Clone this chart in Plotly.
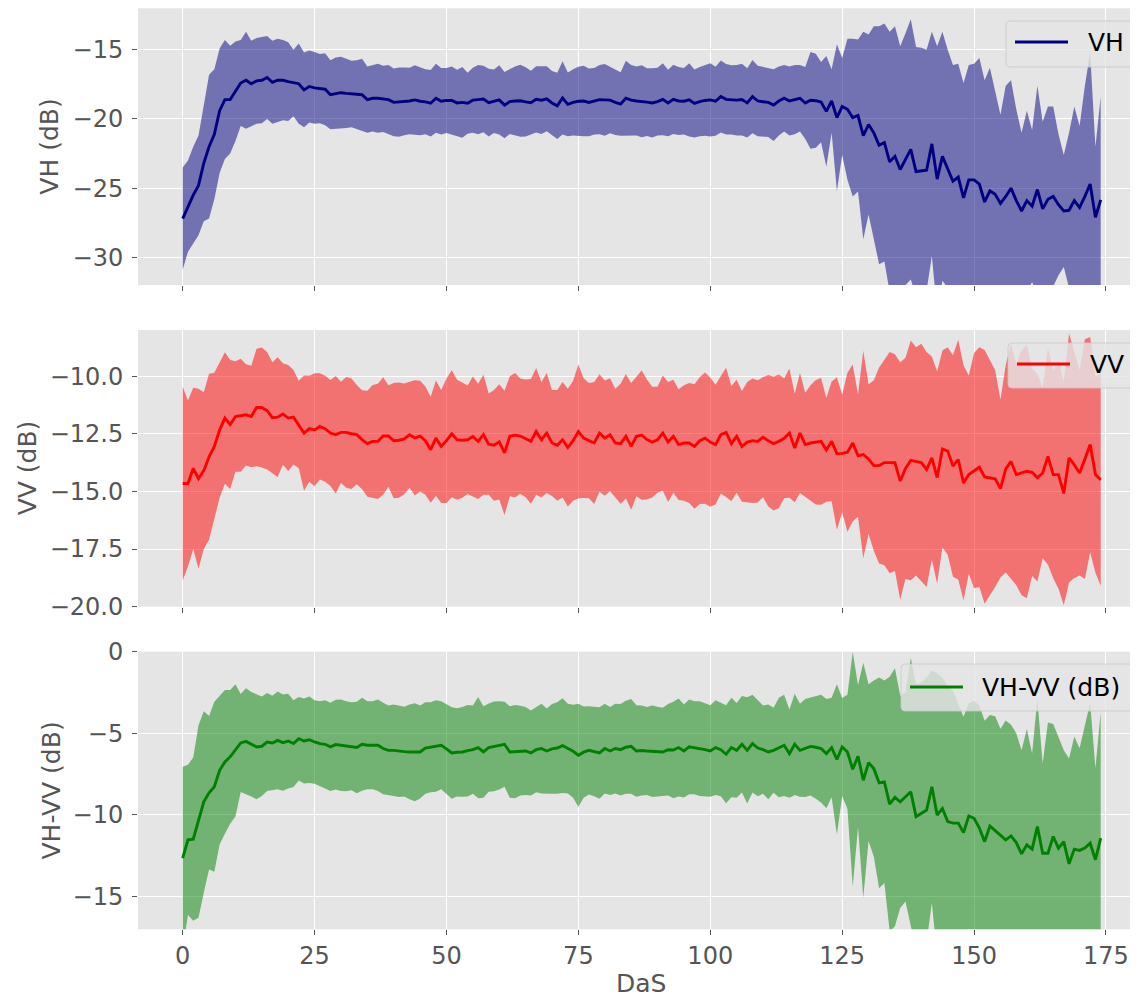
import numpy as np
import plotly.graph_objects as go
from plotly.subplots import make_subplots

# Days after sowing
das = list(range(0, 175))

vh_mean = [
    -27.2, -26.3, -25.5, -24.8, -23.2, -22.0, -21.1, -19.4, -18.6, -18.6,
    -18.0, -17.4, -17.2, -17.45, -17.25, -17.2, -17.0, -17.35, -17.2, -17.2,
    -17.3, -17.4, -17.45, -17.9, -17.65, -17.75, -17.8, -17.85, -18.25, -18.15,
    -18.1, -18.15, -18.2, -18.25, -18.25, -18.6, -18.5, -18.5, -18.55, -18.6,
    -18.8, -18.78, -18.72, -18.7, -18.62, -18.72, -18.76, -18.86, -18.5, -18.72,
    -18.66, -18.66, -18.84, -18.8, -18.86, -18.64, -18.6, -18.56, -18.82, -18.72,
    -18.62, -19.0, -18.74, -18.7, -18.68, -18.76, -18.82, -18.58, -18.64, -18.54,
    -18.84, -19.05, -18.48, -18.94, -18.8, -18.72, -18.7, -18.8, -18.72, -18.6,
    -18.62, -18.64, -18.8, -18.92, -18.5, -18.64, -18.7, -18.72, -18.78, -18.84,
    -18.74, -18.58, -18.84, -18.58, -18.7, -18.72, -18.62, -18.88, -18.74, -18.66,
    -18.62, -18.72, -18.38, -18.58, -18.62, -18.64, -18.6, -18.84, -18.38, -18.7,
    -18.75, -18.8, -19.0, -18.7, -18.5, -18.7, -18.6, -18.5, -18.85, -18.65,
    -18.68, -18.78, -19.45, -18.7, -19.9, -19.1, -19.3, -19.9, -19.75, -21.2,
    -20.4, -21.0, -21.9, -21.7, -23.1, -22.7, -23.65, -22.9, -22.2, -23.8,
    -23.75, -23.7, -21.8, -24.35, -22.7, -23.6, -24.5, -24.2, -25.7, -24.4,
    -24.4, -24.7, -26.0, -25.2, -25.45, -26.1, -25.6, -25.0, -25.9, -26.65,
    -25.9, -26.3, -25.1, -26.5, -25.8, -25.6, -26.2, -26.65, -26.6, -25.9,
    -26.4, -25.6, -24.7, -27.1, -25.85,
]
vh_std = [
    3.7, 3.3, 3.5, 3.6, 4.2, 5.2, 4.7, 4.5, 4.3, 3.9,
    3.6, 3.1, 3.5, 3.1, 3.1, 3.1, 3.0, 3.0, 3.0, 2.9,
    2.85, 2.4, 2.9, 2.7, 2.6, 2.6, 2.5, 2.6, 2.5, 2.6,
    2.6, 2.5, 2.4, 2.5, 2.6, 2.4, 2.4, 2.5, 2.4, 2.5,
    2.45, 2.5, 2.45, 2.4, 2.5, 2.45, 2.35, 2.4, 2.5, 2.4,
    2.35, 2.45, 2.4, 2.55, 2.2, 2.35, 2.5, 2.4, 2.45, 2.3,
    2.5, 2.4, 2.35, 2.5, 2.6, 2.5, 2.3, 2.4, 2.45, 2.35,
    2.3, 2.4, 2.65, 2.3, 2.4, 2.5, 2.55, 2.45, 2.4, 2.5,
    2.6, 2.4, 2.35, 2.3, 2.7, 2.55, 2.5, 2.6, 2.45, 2.5,
    2.45, 2.6, 2.4, 2.5, 2.45, 2.4, 2.65, 2.45, 2.5, 2.55,
    2.65, 2.5, 2.6, 2.55, 2.5, 2.55, 2.6, 2.5, 2.65, 2.55,
    2.5, 2.5, 2.6, 2.5, 2.4, 2.5, 2.5, 2.4, 2.6, 3.5,
    3.4, 2.9, 4.0, 2.3, 5.3, 3.5, 5.1, 5.7, 5.5, 7.5,
    6.5, 7.7, 8.6, 8.6, 9.4, 9.4, 8.9, 9.1, 9.4, 9.0,
    8.9, 8.7, 8.1, 9.6, 9.0, 8.6, 8.4, 8.2, 8.3, 8.3,
    8.4, 9.1, 8.8, 8.9, 7.5, 6.4, 8.0, 7.8, 6.6, 5.65,
    6.5, 5.5, 7.5, 6.3, 6.7, 6.5, 5.1, 4.05, 5.6, 6.8,
    5.9, 8.0, 9.5, 5.1, 7.45,
]

vv_mean = [
    -14.66, -14.66, -14.0, -14.45, -14.1, -13.5, -13.05, -12.33, -11.82, -12.1,
    -11.75, -11.7, -11.68, -11.75, -11.36, -11.36, -11.5, -11.8, -11.78, -11.64,
    -11.82, -11.78, -12.1, -12.47, -12.28, -12.33, -12.18, -12.28, -12.47, -12.54,
    -12.44, -12.44, -12.5, -12.54, -12.76, -12.93, -12.83, -12.83, -12.6, -12.6,
    -12.8, -12.78, -12.72, -12.54, -12.68, -12.6, -12.8, -13.19, -12.69, -13.05,
    -12.8, -12.5, -12.76, -12.78, -12.76, -12.62, -12.83, -12.54, -12.95, -13.0,
    -12.85, -13.33, -12.61, -12.56, -12.6, -12.7, -12.83, -12.4, -12.76, -12.47,
    -12.9, -13.0, -12.76, -13.1, -12.8, -12.4, -12.69, -12.8, -12.9, -12.47,
    -12.69, -12.54, -12.9, -12.93, -12.61, -13.05, -12.61, -12.56, -12.75, -12.86,
    -12.76, -12.47, -12.86, -12.61, -12.97, -12.9, -12.9, -13.05, -12.8, -12.69,
    -12.86, -12.97, -12.54, -12.44, -12.93, -12.61, -13.05, -12.86, -12.8, -12.83,
    -12.65, -12.8, -12.93, -12.83, -12.7, -12.47, -13.12, -12.47, -12.97, -12.9,
    -12.87, -12.83, -13.2, -12.83, -13.36, -13.35, -13.3, -12.9, -13.45, -13.4,
    -13.6, -13.88, -13.88, -13.75, -13.75, -13.75, -14.55, -14.0, -13.65, -13.7,
    -13.75, -14.05, -13.55, -14.4, -13.16, -13.25, -13.9, -13.62, -14.63, -14.27,
    -14.1, -13.95, -14.37, -14.4, -14.45, -14.88, -14.02, -13.7, -14.27, -14.2,
    -14.13, -14.17, -14.41, -14.2, -13.48, -14.27, -14.27, -15.09, -13.55, -13.85,
    -14.2, -13.6, -12.97, -14.27, -14.5,
]
vv_std = [
    4.2, 3.6, 3.5, 3.9, 3.4, 3.6, 3.2, 2.95, 2.85, 2.8,
    2.4, 2.45, 2.2, 2.2, 2.55, 2.6, 2.55, 2.4, 2.6, 2.2,
    2.3, 2.05, 1.9, 2.5, 2.3, 2.45, 2.3, 2.3, 2.3, 2.55,
    2.2, 2.4, 2.4, 2.15, 2.15, 2.3, 2.45, 2.5, 2.55, 2.2,
    2.5, 2.5, 2.4, 2.3, 2.5, 2.4, 2.35, 2.3, 2.5, 2.45,
    2.7, 2.75, 2.6, 2.5, 2.35, 2.6, 2.5, 2.6, 2.2, 2.4,
    2.5, 2.7, 2.6, 2.7, 2.5, 2.55, 2.7, 2.75, 2.5, 2.6,
    2.3, 2.4, 2.5, 2.55, 2.6, 2.9, 2.6, 2.5, 2.65, 2.55,
    2.5, 2.45, 2.35, 2.6, 2.7, 2.75, 2.6, 2.8, 2.6, 2.4,
    2.3, 2.5, 2.6, 2.45, 2.4, 2.5, 2.6, 2.7, 2.75, 2.85,
    2.8, 2.6, 2.55, 2.8, 2.5, 2.45, 2.4, 2.6, 2.7, 2.65,
    2.6, 2.85, 2.9, 2.9, 2.6, 2.8, 2.35, 2.6, 2.25, 2.5,
    2.7, 2.75, 2.25, 2.6, 3.3, 2.55, 3.45, 3.4, 2.65, 4.5,
    3.25, 3.7, 4.25, 4.45, 4.8, 4.7, 5.15, 4.8, 5.2, 4.95,
    5.15, 5.1, 4.4, 4.6, 4.27, 4.5, 4.8, 5.2, 5.1, 4.3,
    5.1, 5.2, 5.5, 5.1, 4.7, 3.85, 4.5, 5.1, 4.8, 5.3,
    5.5, 4.5, 4.5, 3.7, 4.7, 4.5, 4.95, 4.85, 5.4, 4.9,
    4.45, 5.2, 4.67, 4.25, 4.6,
]

vhvv_mean = [
    -12.64, -11.52, -11.48, -10.4, -9.19, -8.64, -8.27, -7.26, -6.75, -6.44,
    -6.04, -5.59, -5.49, -5.67, -5.83, -5.79, -5.53, -5.59, -5.43, -5.57,
    -5.47, -5.63, -5.33, -5.47, -5.39, -5.53, -5.63, -5.67, -5.83, -5.69,
    -5.73, -5.79, -5.79, -5.87, -5.67, -5.73, -5.73, -5.73, -5.93, -6.04,
    -6.04, -6.1, -6.12, -6.14, -6.16, -6.14, -5.9, -5.85, -5.78, -5.73,
    -5.95, -6.2, -6.16, -6.14, -6.06, -6.0, -5.87, -6.14, -5.87, -5.8,
    -5.74, -5.67, -6.14, -6.12, -6.06, -6.08, -6.2, -6.0, -5.93, -6.08,
    -5.95, -5.9, -5.75, -5.93, -6.1, -6.34, -6.15, -6.04, -6.1, -6.2,
    -5.93, -6.08, -5.93, -6.0, -5.85, -5.8, -6.08, -6.05, -6.08, -6.1,
    -6.12, -6.14, -6.0, -6.02, -5.87, -6.08, -5.83, -5.88, -5.93, -6.0,
    -6.08, -5.87, -6.0, -6.28, -5.87, -6.04, -5.67, -6.04, -5.63, -5.9,
    -6.0, -6.14, -6.04, -5.87, -5.73, -6.24, -5.67, -6.04, -5.9, -5.8,
    -5.85, -5.93, -6.24, -5.87, -6.6, -5.83, -6.14, -7.2, -6.4, -7.87,
    -6.8, -7.16, -8.03, -7.97, -9.33, -8.92, -9.19, -8.9, -8.58, -10.1,
    -9.9, -9.7, -8.27, -10.0, -9.6, -10.4, -10.5, -10.5, -11.08, -10.06,
    -10.2, -10.8, -11.63, -10.67, -10.96, -11.22, -11.52, -11.28, -11.69, -12.38,
    -11.83, -12.09, -10.71, -12.34, -12.34, -11.32, -12.03, -11.63, -12.99, -12.09,
    -12.17, -12.03, -11.73, -12.74, -11.42,
]
vhvv_std = [
    5.6, 4.6, 5.0, 5.9, 5.55, 4.7, 5.2, 4.55, 4.4, 4.1,
    4.05, 3.0, 3.25, 3.2, 3.2, 3.05, 3.0, 2.9, 3.0, 2.95,
    2.9, 2.65, 2.55, 2.6, 2.65, 2.55, 2.6, 2.7, 2.7, 2.75,
    2.8, 2.75, 2.7, 2.8, 2.85, 2.7, 2.7, 2.8, 2.8, 2.75,
    2.8, 2.8, 2.75, 2.9, 3.0, 2.85, 2.8, 2.75, 2.8, 2.7,
    2.75, 2.8, 2.7, 2.75, 2.8, 2.7, 3.1, 2.8, 2.7, 2.75,
    2.7, 2.6, 2.8, 2.85, 2.75, 2.7, 2.6, 2.6, 2.75, 2.6,
    2.75, 2.8, 2.9, 2.75, 2.85, 3.15, 2.8, 2.7, 2.75, 2.8,
    2.75, 2.7, 2.75, 2.8, 2.85, 2.9, 2.8, 2.75, 2.7, 2.8,
    2.75, 2.7, 2.8, 2.95, 3.0, 2.85, 2.9, 2.85, 2.9, 2.85,
    2.8, 2.9, 2.85, 3.0, 3.05, 2.9, 2.95, 3.25, 3.0, 2.95,
    2.7, 2.9, 2.6, 3.05, 3.1, 2.7, 3.1, 2.85, 3.0, 3.0,
    3.15, 3.3, 3.35, 3.05, 4.6, 3.0, 3.5, 7.2, 4.35, 7.2,
    4.8, 5.4, 6.45, 6.2, 7.8, 7.9, 6.5, 6.4, 8.2, 8.1,
    8.0, 8.1, 7.1, 8.7, 8.0, 8.3, 8.1, 7.3, 7.1, 6.9,
    7.2, 7.5, 7.4, 6.8, 7.0, 6.5, 7.3, 6.8, 6.7, 6.35,
    7.1, 5.85, 7.8, 5.5, 8.0, 6.9, 6.8, 5.6, 6.45, 6.9,
    6.25, 7.5, 8.6, 5.6, 7.7,
]

series_names = ["VH", "VV", "VH-VV (dB)"]
axis_titles = ["VH (dB)", "VV (dB)", "VH-VV (dB)"]
line_colors = ["#000080", "#FF0000", "#008000"]
fill_colors = ["rgba(0,0,128,0.5)", "rgba(255,0,0,0.5)", "rgba(0,128,0,0.5)"]
y_ranges = [[-32, -12], [-20, -8], [-17, 0]]
y_ticks = [[-30, -25, -20, -15], [-20.0, -17.5, -15.0, -12.5, -10.0], [-15, -10, -5, 0]]
x_ticks = [0, 25, 50, 75, 100, 125, 150, 175]

# The page body adds an 8px margin; the figure is sized so it ends at the window edge.
OFF = 8
W, H = 1138 - OFF, 998 - OFF
FONT = "DejaVu Sans"
GREY_TXT = "#555555"


def px(x):
    return (x - OFF) / W


def py(y):
    return 1 - (y - OFF) / H


fig = make_subplots(rows=3, cols=1, shared_xaxes=False)

means = [vh_mean, vv_mean, vhvv_mean]
stds = [vh_std, vv_std, vhvv_std]

for i in range(3):
    m = np.array(means[i])
    s = np.array(stds[i])
    upper = m + s
    lower = m - s
    xs = das + das[::-1]
    ys = list(upper) + list(lower[::-1])
    fig.add_trace(go.Scatter(x=xs, y=ys, fill="toself", fillcolor=fill_colors[i],
                             line=dict(width=0, color=fill_colors[i]), mode="lines",
                             hoverinfo="skip", showlegend=False),
                  row=i + 1, col=1)
    fig.add_trace(go.Scatter(x=das, y=list(m), mode="lines", name=series_names[i],
                             line=dict(color=line_colors[i], width=2.9),
                             showlegend=False),
                  row=i + 1, col=1)

# panel geometry in page pixels (top, bottom)
left_px = 138.0
panels_px = [(8.3, 285.0), (330.0, 606.7), (651.7, 929.3)]
x_domain = [px(left_px), 1.0]
x_range = [-8.47, 181.07]

for i in range(3):
    top, bot = panels_px[i]
    ydom = [py(bot), py(top)]
    xa = dict(domain=x_domain, range=x_range, tickvals=x_ticks,
              showgrid=True, gridcolor="white", gridwidth=1.3, zeroline=False,
              ticks="outside", ticklen=5, tickcolor=GREY_TXT, tickwidth=1,
              showline=False, showticklabels=(i == 2),
              tickfont=dict(family=FONT, size=24, color=GREY_TXT),
              automargin=False)
    if i < 2:
        xa["matches"] = "x3"
    ya = dict(domain=ydom, range=y_ranges[i], tickvals=y_ticks[i],
              showgrid=True, gridcolor="white", gridwidth=1.3, zeroline=False,
              ticks="outside", ticklen=5, tickcolor=GREY_TXT, tickwidth=1,
              showline=False, tickfont=dict(family=FONT, size=24, color=GREY_TXT),
              ticklabelstandoff=4, automargin=False)
    if i == 1:
        ya["tickformat"] = ".1f"
    suffix = "" if i == 0 else str(i + 1)
    fig.update_layout(**{"xaxis" + suffix: xa, "yaxis" + suffix: ya})

# Legend boxes (page pixels): box x0, x1, y0, y1, line x0, x1, y, text x
legend_boxes = [
    (1006, 1133, 21, 67, 1015, 1068, 42, 1086),
    (1008, 1133, 343, 388, 1017, 1070, 364, 1088),
    (901, 1133, 664, 711, 910, 963, 687, 980),
]
shapes = []
annotations = []


def rounded_path(x0, x1, y0, y1, r=4):
    rx = r / W
    ry = r / H
    X0, X1 = px(x0), px(x1)
    Yt, Yb = py(y0), py(y1)
    return (f"M {X0 + rx},{Yt} L {X1 - rx},{Yt} Q {X1},{Yt} {X1},{Yt - ry} "
            f"L {X1},{Yb + ry} Q {X1},{Yb} {X1 - rx},{Yb} L {X0 + rx},{Yb} "
            f"Q {X0},{Yb} {X0},{Yb + ry} L {X0},{Yt - ry} Q {X0},{Yt} {X0 + rx},{Yt} Z")


for i in range(3):
    bx0, bx1, by0, by1, lx0, lx1, ly, tx = legend_boxes[i]
    shapes.append(dict(type="path", path=rounded_path(bx0, bx1, by0, by1), xref="paper", yref="paper",
                       fillcolor="rgba(229,229,229,0.8)", line=dict(color="rgba(200,200,200,0.8)", width=1),
                       layer="above"))
    shapes.append(dict(type="line", x0=px(lx0), x1=px(lx1), y0=py(ly), y1=py(ly), xref="paper", yref="paper",
                       line=dict(color=line_colors[i], width=2.9), layer="above"))
    annotations.append(dict(text=series_names[i], x=px(tx), y=py(ly), xref="paper", yref="paper",
                            showarrow=False, xanchor="left", yanchor="middle",
                            font=dict(family=FONT, size=25, color="black")))

ytitle_pos = [(50, 146.7), (27, 468.3), (51, 790.5)]
for i in range(3):
    x0, y0 = ytitle_pos[i]
    annotations.append(dict(text=axis_titles[i], x=px(x0), y=py(y0), xref="paper", yref="paper",
                            textangle=-90, showarrow=False, xanchor="center", yanchor="middle",
                            font=dict(family=FONT, size=25, color=GREY_TXT)))
annotations.append(dict(text="DaS", x=px(641), y=py(983), xref="paper", yref="paper",
                        showarrow=False, xanchor="center", yanchor="middle",
                        font=dict(family=FONT, size=25, color=GREY_TXT)))

fig.update_layout(width=W, height=H, margin=dict(l=0, r=0, t=0, b=0),
                  paper_bgcolor="white", plot_bgcolor="#E5E5E5",
                  shapes=shapes, annotations=annotations, hovermode=False,
                  showlegend=False)

fig.write_html("out.html")
